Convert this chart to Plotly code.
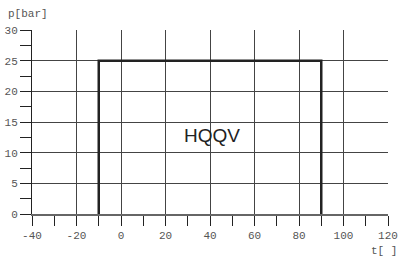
import plotly.graph_objects as go

t_vals = [-10, -10, 90, 90]
p_vals = [0, 25, 25, 0]
x_ticks = [-40, -20, 0, 20, 40, 60, 80, 100, 120]
y_ticks = [0, 5, 10, 15, 20, 25, 30]
label_text = "HQQV"
label_pos = (41, 12.8)

mono = dict(family="Liberation Mono, Courier New, monospace", size=11, color="#555")

fig = go.Figure()
fig.add_trace(go.Scatter(x=t_vals, y=p_vals, mode="lines",
                         line=dict(color="#222", width=2.5), showlegend=False,
                         hoverinfo="skip", cliponaxis=False))

fig.add_annotation(x=label_pos[0], y=label_pos[1], text=label_text, showarrow=False,
                   font=dict(family="Liberation Sans, Arial, sans-serif", size=19, color="#222"))
fig.add_annotation(xref="paper", yref="paper", x=-0.072, y=1.045, xanchor="left", yanchor="bottom",
                   text="p[bar]", showarrow=False, font=mono)
fig.add_annotation(xref="paper", yref="paper", x=1.03, y=-0.16, xanchor="right", yanchor="top",
                   text="t[ ]", showarrow=False, font=mono)

fig.update_xaxes(range=[-40, 120], tickvals=x_ticks, ticktext=[str(v) for v in x_ticks],
                 showgrid=True, gridcolor="#444", gridwidth=1,
                 ticks="outside", ticklen=10, tickcolor="#222", tickwidth=1,
                 minor=dict(dtick=10, tick0=0, ticks="outside", ticklen=10, tickcolor="#222", showgrid=False),
                 showline=True, linecolor="#666", linewidth=1.5,
                 zeroline=False, tickfont=mono, fixedrange=True, automargin=False)
fig.update_yaxes(range=[0, 30], tickvals=y_ticks, ticktext=[str(v) for v in y_ticks],
                 showgrid=True, gridcolor="#444", gridwidth=1,
                 ticks="outside", ticklen=11, tickcolor="#222", tickwidth=1,
                 minor=dict(dtick=2.5, tick0=0, ticks="outside", ticklen=11, tickcolor="#222", showgrid=False),
                 showline=True, linecolor="#222", linewidth=1,
                 zeroline=False, tickfont=mono, fixedrange=True, automargin=False)

fig.update_layout(width=398, height=256, margin=dict(l=32, r=10, t=30, b=42),
                  plot_bgcolor="white", paper_bgcolor="white")
fig.write_html("out.html", config={"displayModeBar": False},
               post_script="document.body.style.margin='0';document.body.style.overflow='hidden';")
